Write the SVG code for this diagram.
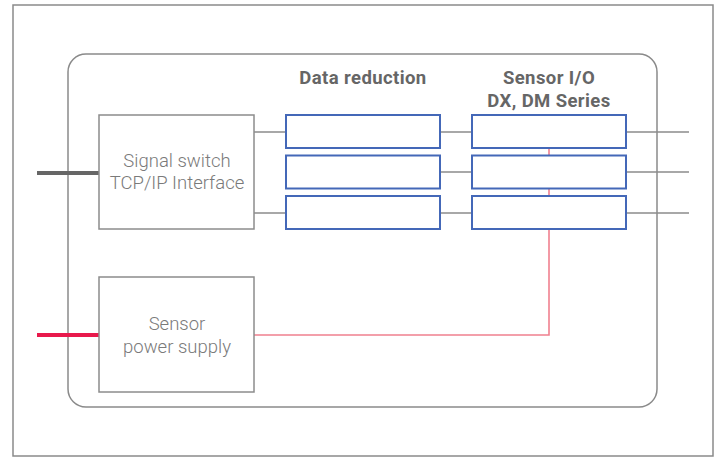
<svg xmlns="http://www.w3.org/2000/svg" width="721" height="457" viewBox="0 0 721 457">
<style>
.frame{fill:none;stroke:#8a8a8a;stroke-width:1.5}
.box{fill:#fff;stroke:#8c8c8c;stroke-width:1.5}
.blue{fill:#fff;stroke:#4468b8;stroke-width:2}
.wire{fill:none;stroke:#8c8c8c;stroke-width:1.5}
.pwr{fill:none;stroke:#f0808f;stroke-width:1.6}
.lbl{font-family:Roboto,"Liberation Sans",sans-serif;font-weight:300;font-size:18.5px;fill:#7a7a7a;text-anchor:middle}
.hdr{font-family:Roboto,"Liberation Sans",sans-serif;font-weight:700;font-size:18.5px;letter-spacing:0.4px;fill:#666;text-anchor:middle}
</style>
<rect width="721" height="457" fill="#fff"/>
<rect class="frame" x="13" y="5" width="700" height="451"/>
<rect class="frame" id="enclosure" x="68" y="54" width="589" height="353" rx="18" ry="18"/>
<g id="connectors">
<line x1="37" y1="173" x2="99" y2="173" stroke="#666" stroke-width="4"/>
<line x1="37" y1="335" x2="99" y2="335" stroke="#e8194c" stroke-width="4"/>
<path class="wire" d="M254 132H286M254 213H286M440 132H472M440 172H472M440 213H472M626 132H689M626 172H689M626 213H689"/>
<path class="pwr" d="M254 335H549V148M549 156V188.5M549 197V229"/>
</g>
<g id="signal-switch">
<rect class="box" x="99" y="115" width="155" height="114"/>
<text class="lbl" x="177" y="167">Signal switch</text>
<text class="lbl" x="177" y="189">TCP/IP Interface</text>
</g>
<g id="power-supply">
<rect class="box" x="99" y="277" width="155" height="115"/>
<text class="lbl" x="177" y="330">Sensor</text>
<text class="lbl" x="177" y="353">power supply</text>
</g>
<g id="data-reduction">
<text class="hdr" x="363" y="84">Data reduction</text>
<rect class="blue" x="286" y="115" width="154" height="33"/>
<rect class="blue" x="286" y="155.5" width="154" height="33"/>
<rect class="blue" x="286" y="196" width="154" height="33"/>
</g>
<g id="sensor-io">
<text class="hdr" x="549" y="84">Sensor I/O</text>
<text class="hdr" x="549" y="107">DX, DM Series</text>
<rect class="blue" x="472" y="115" width="154" height="33"/>
<rect class="blue" x="472" y="155.5" width="154" height="33"/>
<rect class="blue" x="472" y="196" width="154" height="33"/>
</g>
</svg>
